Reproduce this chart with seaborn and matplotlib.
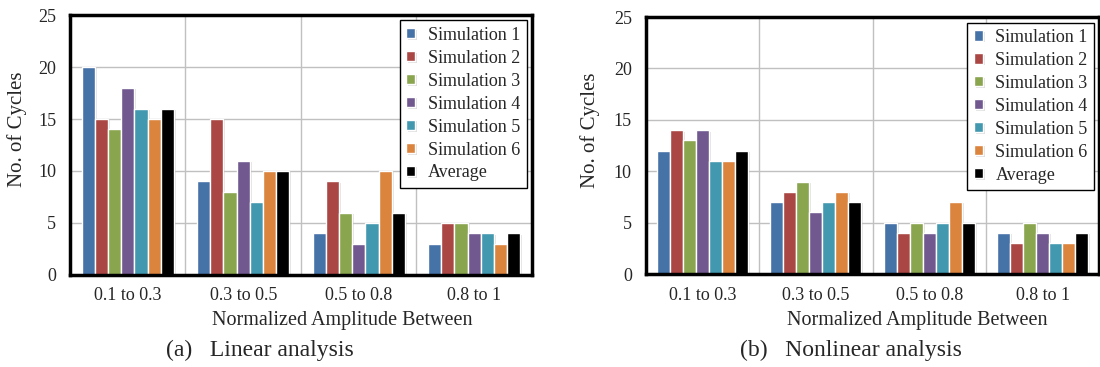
import numpy as np
import pandas as pd
import matplotlib
matplotlib.use('Agg')
import matplotlib.pyplot as plt
import matplotlib.patheffects as pe
import seaborn as sns

ranges = ['0.1 to 0.3', '0.3 to 0.5', '0.5 to 0.8', '0.8 to 1']
series = ['Simulation 1', 'Simulation 2', 'Simulation 3', 'Simulation 4',
          'Simulation 5', 'Simulation 6', 'Average']
colors = ['#4572A7', '#AA4643', '#89A54E', '#71588F', '#4198AF', '#DB843D', '#000000']

# values per amplitude range, one entry per series (sim 1..6, average)
lin_01_03 = [20, 15, 14, 18, 16, 15, 16]
lin_03_05 = [9, 15, 8, 11, 7, 10, 10]
lin_05_08 = [4, 9, 6, 3, 5, 10, 6]
lin_08_10 = [3, 5, 5, 4, 4, 3, 4]

nonlin_01_03 = [12, 14, 13, 14, 11, 11, 12]
nonlin_03_05 = [7, 8, 9, 6, 7, 8, 7]
nonlin_05_08 = [5, 4, 5, 4, 5, 7, 5]
nonlin_08_10 = [4, 3, 5, 4, 3, 3, 4]

captions = ['(a)   Linear analysis', '(b)   Nonlinear analysis']


def make_frame(groups):
    rows = []
    for rng, vals in zip(ranges, groups):
        for s, v in zip(series, vals):
            rows.append({'range': rng, 'series': s, 'cycles': v})
    return pd.DataFrame(rows)


sns.set_style('white')
plt.rcParams['font.family'] = ['Liberation Serif', 'DejaVu Serif']

fig = plt.figure(figsize=(11, 3.67), dpi=100)
ax1 = fig.add_axes([0.0636, 0.2507, 0.42, 0.7084])
ax2 = fig.add_axes([0.587, 0.2534, 0.4125, 0.700])

panels = [
    (ax1, make_frame([lin_01_03, lin_03_05, lin_05_08, lin_08_10])),
    (ax2, make_frame([nonlin_01_03, nonlin_03_05, nonlin_05_08, nonlin_08_10])),
]

for ax, df in panels:
    sns.barplot(data=df, x='range', y='cycles', hue='series', palette=colors,
                saturation=1, edgecolor='white', linewidth=1, width=0.8, ax=ax)
    for p in ax.patches:
        p.set_path_effects([pe.SimplePatchShadow(offset=(1.5, -1), shadow_rgbFace='0.6', alpha=0.3),
                            pe.Normal()])
    ax.set_ylim(0, 25)
    ax.set_xlim(-0.5, 3.5)
    ax.set_yticks([0, 5, 10, 15, 20, 25])
    ax.set_xticks([0.5, 1.5, 2.5], minor=True)
    ax.grid(axis='y', which='major', color='#c0c0c0', linewidth=1)
    ax.grid(axis='x', which='minor', color='#c0c0c0', linewidth=1)
    ax.set_axisbelow(True)
    ax.tick_params(axis='both', which='both', length=0, labelsize=13)
    ax.tick_params(axis='y', pad=10)
    ax.tick_params(axis='x', pad=9)
    for sp in ax.spines.values():
        sp.set_visible(True)
        sp.set_color('black')
        sp.set_linewidth(2.5)
    ax.set_xlabel('')
    ax.set_ylabel('No. of Cycles', fontsize=15)
    handles, labels = ax.get_legend_handles_labels()
    leg = ax.legend(handles, labels, loc='upper right', fontsize=13, frameon=True,
                    fancybox=False, framealpha=1, edgecolor='black',
                    handlelength=0.5, handleheight=0.5, handletextpad=0.7,
                    labelspacing=0.33, borderpad=0.35, borderaxespad=0.3)
    leg.get_frame().set_linewidth(1)

ax1.yaxis.set_label_coords(-0.093, 0.56)
ax2.yaxis.set_label_coords(-0.101, 0.56)

fig.text(0.311, 0.128, 'Normalized Amplitude Between', ha='center', va='center', fontsize=14.5)
fig.text(0.834, 0.128, 'Normalized Amplitude Between', ha='center', va='center', fontsize=14.5)
fig.text(0.236, 0.046, captions[0], ha='center', va='center', fontsize=17)
fig.text(0.774, 0.046, captions[1], ha='center', va='center', fontsize=17)

fig.savefig('out.png', dpi=100)
